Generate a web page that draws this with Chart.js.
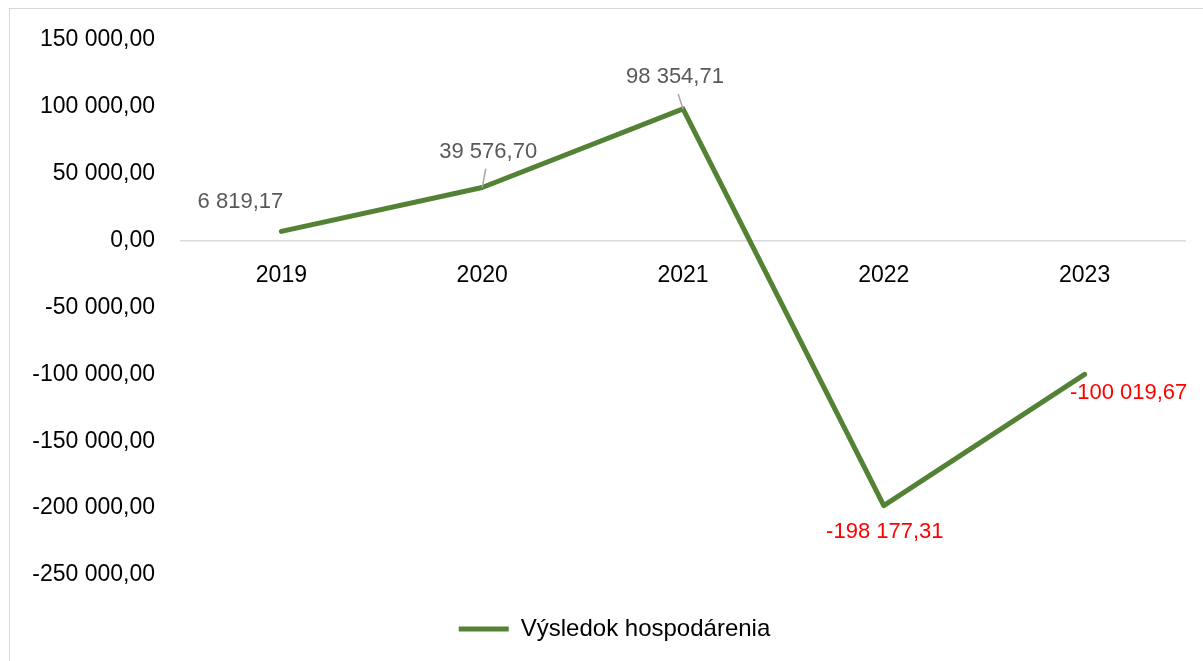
<!DOCTYPE html>
<html><head><meta charset="utf-8">
<script src="https://cdn.jsdelivr.net/npm/chart.js@4/dist/chart.umd.min.js"></script>
<style>html,body{margin:0;padding:0;background:#fff;overflow:hidden}</style>
</head><body><canvas id="c" width="1203" height="661"></canvas>
<script>
const categories = ['2019', '2020', '2021', '2022', '2023'];
const values = [6819.17, 39576.70, 98354.71, -198177.31, -100019.67];
const seriesName = 'Výsledok hospodárenia';
const yMin = -250000;
const yMax = 150000;
const yStep = 50000;

const FONT = '"Liberation Sans", Arial, sans-serif';
function fmt(v) {
  const s = Math.abs(v).toFixed(2);
  const parts = s.split('.');
  const ip = parts[0].replace(/\B(?=(\d{3})+(?!\d))/g, ' ');
  return (v < 0 ? '-' : '') + ip + ',' + parts[1];
}

const borderPlugin = {
  id: 'frame',
  afterLayout(chart) {
    if (chart.legend) { chart.legend.left += 22; chart.legend.right += 22; }
  },
  beforeDraw(chart) {
    const c = chart.ctx;
    c.save();
    c.fillStyle = '#fff';
    c.fillRect(0, 0, chart.width, chart.height);
    c.strokeStyle = '#d9d9d9';
    c.lineWidth = 1;
    c.strokeRect(9.5, 8.5, chart.width + 20, chart.height + 20);
    c.restore();
  }
};

const labelPlugin = {
  id: 'valueLabels',
  afterDatasetsDraw(chart) {
    const c = chart.ctx;
    const meta = chart.getDatasetMeta(0);
    const data = chart.data.datasets[0].data;
    // [dx, dy, leader]
    const off = [[-41, -29, false], [6, -36, true], [-8, -32, true], [1, 26, false], [44, 19, false]];
    c.save();
    meta.data.forEach((pt, i) => {
      const o = off[i];
      const v = data[i];
      if (o[2]) {
        c.strokeStyle = '#a6a6a6';
        c.lineWidth = 1.5;
        c.beginPath();
        c.moveTo(pt.x, pt.y);
        c.lineTo(pt.x + o[0] * 0.6, pt.y + o[1] + 17);
        c.stroke();
      }
      c.font = '22px ' + FONT;
      c.fillStyle = v < 0 ? '#ff0000' : '#595959';
      c.textAlign = 'center';
      c.textBaseline = 'middle';
      c.fillText(fmt(v), pt.x + o[0], pt.y + o[1]);
    });
    c.restore();
  }
};

new Chart(document.getElementById('c'), {
  type: 'line',
  data: {
    labels: categories,
    datasets: [{
      label: seriesName,
      data: values,
      borderColor: '#548235',
      backgroundColor: '#548235',
      borderWidth: 5,
      pointRadius: 0,
      pointHoverRadius: 0,
      tension: 0,
      borderCapStyle: 'round',
      borderJoinStyle: 'round',
      clip: false
    }]
  },
  options: {
    responsive: false,
    animation: false,
    devicePixelRatio: 1,
    events: [],
    layout: { padding: { top: 38, right: 18, bottom: 10, left: 0 } },
    scales: {
      x: {
        type: 'category',
        offset: true,
        position: { y: 0 },
        grid: { display: false, drawTicks: false },
        border: { display: true, color: '#d9d9d9', width: 1.5 },
        ticks: { color: '#000', font: { family: FONT, size: 23 }, padding: 21, maxRotation: 0, autoSkip: false },
        afterFit(s) { s.height = 0; }
      },
      y: {
        min: yMin,
        max: yMax,
        grid: { display: false, drawTicks: false },
        border: { display: false },
        ticks: { stepSize: yStep, color: '#000', font: { family: FONT, size: 23 }, padding: 26, callback: v => fmt(v) },
        afterFit(s) { s.width = 181; }
      }
    },
    plugins: {
      legend: {
        position: 'bottom',
        labels: {
          usePointStyle: true,
          pointStyle: 'line',
          pointStyleWidth: 50,
          color: '#000',
          font: { family: FONT, size: 24 },
          padding: 42
        }
      },
      tooltip: { enabled: false }
    }
  },
  plugins: [borderPlugin, labelPlugin]
});
</script>
</body></html>
